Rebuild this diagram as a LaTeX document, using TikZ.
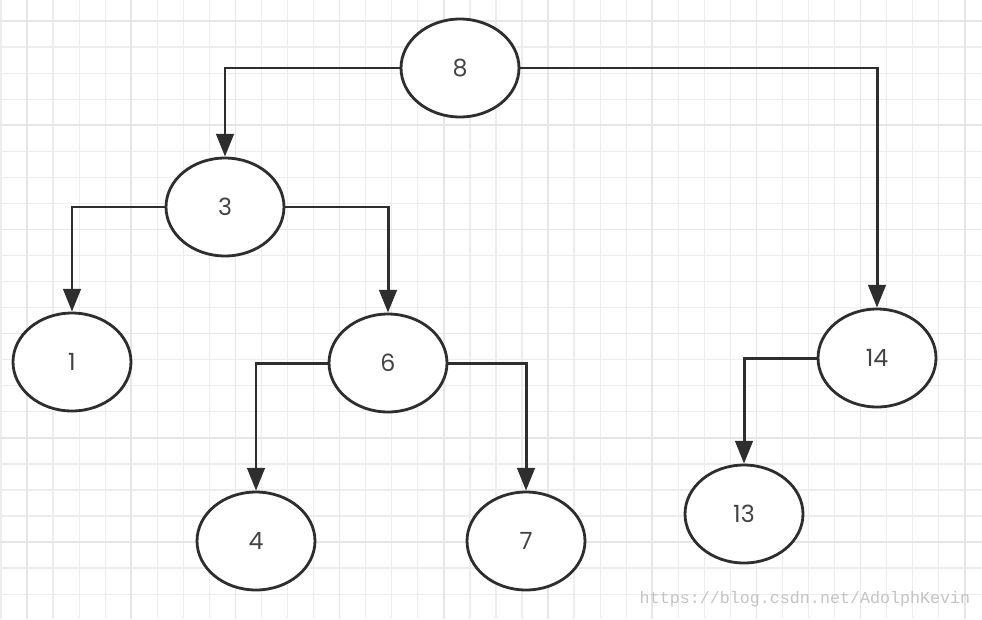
\documentclass[tikz,border=0pt]{standalone}
\usepackage{fontspec}
\setmainfont{Poppins}
\newfontfamily\markfont{Liberation Mono}
\usetikzlibrary{arrows.meta,shapes.geometric}
\definecolor{inkgray}{HTML}{2E2E2E}
\definecolor{minorgrid}{HTML}{EDEDED}
\definecolor{majorgrid}{HTML}{E6E6E6}
\definecolor{markgray}{HTML}{C4C4C4}

\begin{document}
\begin{tikzpicture}[x=0.02cm,y=-0.02cm,line join=miter,
    treenode/.style={ellipse,draw=inkgray,line width=1.6pt,fill=white,
      minimum width=2.36cm,minimum height=1.96cm,inner sep=0pt,
      font=\fontsize{13.5}{15}\selectfont,text=inkgray!90},
    link/.style={draw=inkgray,line width=1.7pt,-{Triangle[length=13pt,width=10pt]}}]
  \useasboundingbox (0,0) rectangle (982,619);
  \fill[white] (0,0) rectangle (982,619);
  % grid
  \foreach \k in {0,...,37} {
    \draw[minorgrid,line width=0.7pt] (1+26.05*\k,0) -- (1+26.05*\k,619);
  }
  \foreach \k in {0,...,23} {
    \draw[minorgrid,line width=0.7pt] (0,-5+26.05*\k) -- (982,-5+26.05*\k);
  }
  \foreach \k in {0,...,9} {
    \draw[majorgrid,line width=1pt] (27+104.2*\k,0) -- (27+104.2*\k,619);
  }
  \foreach \k in {0,...,5} {
    \draw[majorgrid,line width=1pt] (0,21+104.2*\k) -- (982,21+104.2*\k);
  }
  % nodes
  \node[treenode] (n8) at (460,68) {8};
  \node[treenode] (n3) at (225,207) {3};
  \node[treenode] (n1) at (72,362) {1};
  \node[treenode] (n6) at (388,363) {6};
  \node[treenode] (n14) at (877,358) {14};
  \node[treenode] (n4) at (256,541) {4};
  \node[treenode] (n7) at (526,541) {7};
  \node[treenode] (n13) at (744,514) {13};
  % links
  \draw[link] (n8.west) -| (n3.north);
  \draw[link] (n8.east) -| (n14.north);
  \draw[link] (n3.west) -| (n1.north);
  \draw[link] (n3.east) -| (n6.north);
  \draw[link] (n6.west) -| (n4.north);
  \draw[link] (n6.east) -| (n7.north);
  \draw[link] (n14.west) -| (n13.north);
  % watermark
  \node[text=markgray,font=\markfont\fontsize{9.5}{11}\selectfont] (mark) at (805,599) {https://blog.csdn.net/AdolphKevin};
\end{tikzpicture}
\end{document}
